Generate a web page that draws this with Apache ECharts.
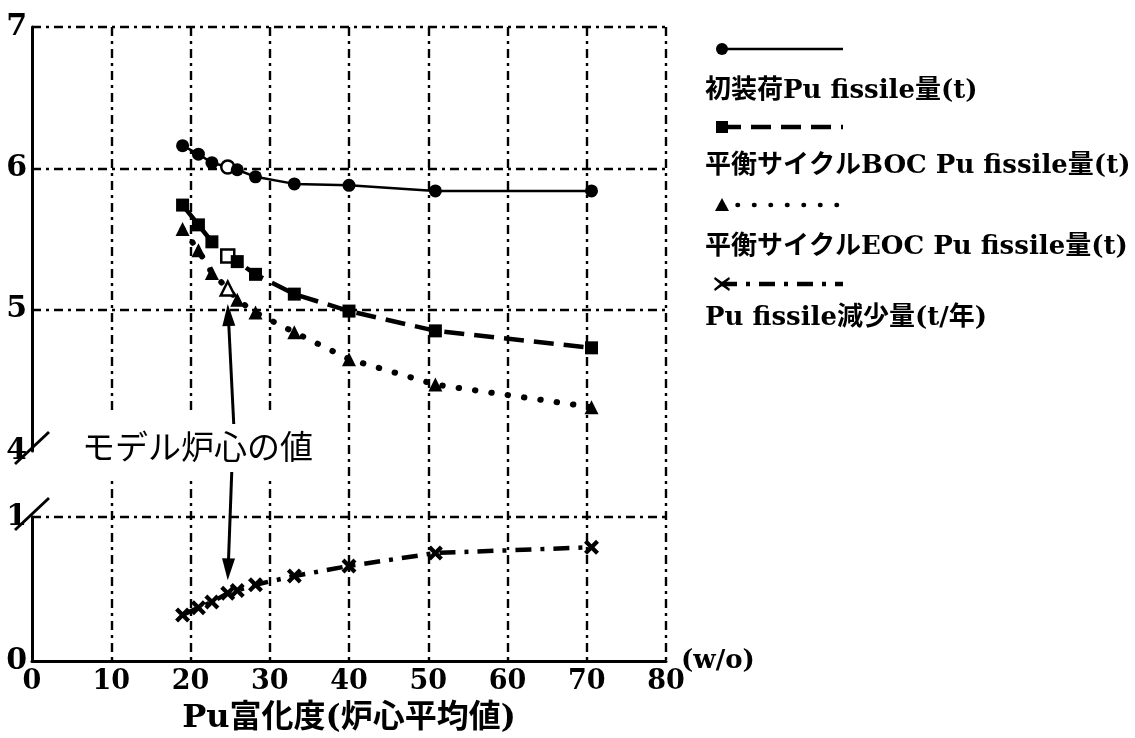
<!DOCTYPE html>
<html>
<head>
<meta charset="utf-8">
<script src="https://cdn.jsdelivr.net/npm/echarts@6/dist/echarts.min.js"></script>
<style>
  html, body { margin: 0; padding: 0; background: #ffffff; }
  #chart { width: 1135px; height: 738px; }
</style>
</head>
<body>
<div id="chart"></div>
<script>
// Pu enrichment (core average, w/o)
const enrichment = [19.0, 21.0, 22.7, 24.7, 25.9, 28.2, 33.1, 40.0, 50.9, 70.6];
// index of the model core case (drawn with hollow symbols)
const modelCoreIndex = 3;

// Pu fissile inventories (t)
const initialLoad = [6.16, 6.10, 6.04, 6.01, 5.99, 5.94, 5.89, 5.88, 5.84, 5.84];
const bocFissile  = [5.74, 5.60, 5.48, 5.38, 5.34, 5.25, 5.11, 4.99, 4.85, 4.73];
const eocFissile  = [5.57, 5.42, 5.26, 5.15, 5.07, 4.98, 4.84, 4.65, 4.47, 4.31];
// Pu fissile reduction (t/year)
const fissileReduction = [0.32, 0.37, 0.41, 0.47, 0.49, 0.53, 0.59, 0.66, 0.75, 0.79];

const seriesNames = [
  '初装荷Pu fissile量(t)',
  '平衡サイクルBOC Pu fissile量(t)',
  '平衡サイクルEOC Pu fissile量(t)',
  'Pu fissile減少量(t/年)'
];
const xAxisTitle = 'Pu富化度(炉心平均値)';
const xUnit = '(w/o)';
const annotationText = 'モデル炉心の値';

const xRange = [0, 80];
const upperRange = [4, 7];
const lowerRange = [0, 1];

const LATIN = '"DejaVu Serif", "Noto Sans CJK JP", serif';
const JP = '"Noto Sans CJK JP", sans-serif';
const gridDash = [9, 5, 3, 5];
const gridLine = { color: '#000', width: 2.4, type: gridDash, cap: 'butt' };
const axisLineStyle = { color: '#000', width: 3 };

const crossPath = 'path://M2,0 L5,3 L8,0 L10,2 L7,5 L10,8 L8,10 L5,7 L2,10 L0,8 L3,5 L0,2 Z';

function pairs(ys, hollowFill) {
  return enrichment.map((x, i) => {
    if (hollowFill && i === modelCoreIndex) {
      return { value: [x, ys[i]], itemStyle: { color: '#fff', borderColor: '#000', borderWidth: 2.5 } };
    }
    return [x, ys[i]];
  });
}

const chart = echarts.init(document.getElementById('chart'), null, { renderer: 'canvas' });

const option = {
  backgroundColor: '#ffffff',
  animation: false,
  grid: [
    { left: 32, width: 634, top: 27, height: 634 },   // full frame (vertical grid lines)
    { left: 32, width: 634, top: 27, height: 424 },   // upper part: 4 - 7
    { left: 32, width: 634, top: 517, height: 144 }   // lower part: 0 - 1
  ],
  xAxis: [
    {
      gridIndex: 0, type: 'value', min: xRange[0], max: xRange[1], interval: 10,
      axisLine: { show: false }, axisTick: { show: false }, axisLabel: { show: false },
      splitLine: { show: true, showMinLine: false, showMaxLine: true, lineStyle: gridLine },
      name: xUnit, nameLocation: 'end', nameGap: 15,
      nameTextStyle: { fontFamily: LATIN, fontWeight: 'bold', fontSize: 26, color: '#000', verticalAlign: 'middle', padding: [8, 0, 0, 0] }
    },
    {
      gridIndex: 1, type: 'value', min: xRange[0], max: xRange[1], interval: 10, show: false
    },
    {
      gridIndex: 2, type: 'value', min: xRange[0], max: xRange[1], interval: 10,
      axisLine: { show: true, onZero: false, lineStyle: axisLineStyle },
      axisTick: { show: false },
      axisLabel: { margin: 7, fontFamily: LATIN, fontWeight: 'bold', fontSize: 27, color: '#000' },
      splitLine: { show: false },
      name: xAxisTitle, nameLocation: 'middle', nameGap: 42,
      nameTextStyle: { fontFamily: LATIN, fontWeight: 'bold', fontSize: 32, color: '#000', verticalAlign: 'top' }
    }
  ],
  yAxis: [
    { gridIndex: 0, type: 'value', min: 0, max: 1, show: false },
    {
      gridIndex: 1, type: 'value', min: upperRange[0], max: upperRange[1], interval: 1,
      axisLine: { show: true, lineStyle: axisLineStyle },
      axisTick: { show: false },
      axisLabel: { margin: 5, fontFamily: LATIN, fontWeight: 'bold', fontSize: 30, color: '#000' },
      splitLine: { show: true, showMinLine: false, showMaxLine: true, lineStyle: gridLine }
    },
    {
      gridIndex: 2, type: 'value', min: lowerRange[0], max: lowerRange[1], interval: 1,
      axisLine: { show: true, lineStyle: axisLineStyle },
      axisTick: { show: false },
      axisLabel: { margin: 5, fontFamily: LATIN, fontWeight: 'bold', fontSize: 30, color: '#000' },
      splitLine: { show: true, showMinLine: false, showMaxLine: true, lineStyle: gridLine }
    }
  ],
  series: [
    {
      name: seriesNames[0], type: 'line', xAxisIndex: 1, yAxisIndex: 1,
      data: pairs(initialLoad, true),
      symbol: 'circle', symbolSize: 13,
      itemStyle: { color: '#000' },
      lineStyle: { color: '#000', width: 2.5, type: 'solid' },
      z: 5
    },
    {
      name: seriesNames[1], type: 'line', xAxisIndex: 1, yAxisIndex: 1,
      data: pairs(bocFissile, true),
      symbol: 'rect', symbolSize: 13,
      itemStyle: { color: '#000' },
      lineStyle: { color: '#000', width: 4.5, type: [20, 10], cap: 'butt' },
      z: 5
    },
    {
      name: seriesNames[2], type: 'line', xAxisIndex: 1, yAxisIndex: 1,
      data: pairs(eocFissile, true),
      symbol: 'triangle', symbolSize: 14,
      itemStyle: { color: '#000' },
      lineStyle: { color: '#000', width: 6, type: [0.5, 16], cap: 'round' },
      z: 5
    },
    {
      name: seriesNames[3], type: 'line', xAxisIndex: 2, yAxisIndex: 2,
      data: pairs(fissileReduction, false),
      symbol: crossPath, symbolSize: 15,
      itemStyle: { color: '#000' },
      lineStyle: { color: '#000', width: 4.5, type: [16, 9, 4, 9], cap: 'butt' },
      z: 5
    }
  ]
};

chart.setOption(option);

// ---- annotations and legend built from the axes' pixel positions ----
const upperPx = (x, y) => chart.convertToPixel({ xAxisIndex: 1, yAxisIndex: 1 }, [x, y]);
const lowerPx = (x, y) => chart.convertToPixel({ xAxisIndex: 2, yAxisIndex: 2 }, [x, y]);

const breakUpper = upperPx(0, upperRange[0]);
const breakLower = lowerPx(0, lowerRange[1]);

function slash(p) {
  return {
    type: 'line', z: 20,
    shape: { x1: p[0] - 17, y1: p[1] + 13, x2: p[0] + 17, y2: p[1] - 19 },
    style: { stroke: '#000', lineWidth: 3 }
  };
}

function arrow(tail, tip) {
  const dx = tip[0] - tail[0], dy = tip[1] - tail[1];
  const len = Math.sqrt(dx * dx + dy * dy);
  const ux = dx / len, uy = dy / len;
  const headLen = 22, headHalf = 6.5;
  const bx = tip[0] - ux * headLen, by = tip[1] - uy * headLen;
  return [
    {
      type: 'line', z: 30,
      shape: { x1: tail[0], y1: tail[1], x2: bx + ux * 2, y2: by + uy * 2 },
      style: { stroke: '#000', lineWidth: 3 }
    },
    {
      type: 'polygon', z: 30,
      shape: { points: [[tip[0], tip[1]], [bx - uy * headHalf, by + ux * headHalf], [bx + uy * headHalf, by - ux * headHalf]] },
      style: { fill: '#000' }
    }
  ];
}

const mx = enrichment[modelCoreIndex];
const upTip = upperPx(mx, 5.04);
const downTip = lowerPx(mx, 0.56);
const annotationY = breakUpper[1] - 5;

// legend: sample line with its symbol on one row, the label on the row below
const legendX0 = 717, legendX1 = 843;
const sampleRows = [49, 127, 205, 284];
const labelRows = [91, 166, 247, 318];

function legendSample(i) {
  const y = sampleRows[i];
  const s = option.series[i];
  const els = [];
  const ls = s.lineStyle;
  els.push({
    type: 'line', z: 10,
    shape: { x1: legendX0 + 4, y1: y, x2: legendX1, y2: y },
    style: {
      stroke: '#000', lineWidth: Math.min(ls.width, 4.5),
      lineDash: ls.type === 'solid' ? null : ls.type,
      lineCap: ls.cap || 'butt'
    }
  });
  const sx = legendX0 + 5;
  if (i === 0) {
    els.push({ type: 'circle', z: 11, shape: { cx: sx, cy: y, r: 6 }, style: { fill: '#000' } });
  } else if (i === 1) {
    els.push({ type: 'rect', z: 11, shape: { x: sx - 6, y: y - 6, width: 12, height: 12 }, style: { fill: '#000' } });
  } else if (i === 2) {
    els.push({ type: 'polygon', z: 11, shape: { points: [[sx, y - 7], [sx + 7, y + 6], [sx - 7, y + 6]] }, style: { fill: '#000' } });
  } else {
    els.push({ type: 'polygon', z: 11, shape: { points: [
      [sx - 7, y - 7], [sx, y - 2], [sx + 7, y - 7], [sx + 8, y - 5], [sx + 2, y], [sx + 8, y + 5],
      [sx + 7, y + 7], [sx, y + 2], [sx - 7, y + 7], [sx - 8, y + 5], [sx - 2, y], [sx - 8, y - 5]
    ] }, style: { fill: '#000' } });
  }
  els.push({
    type: 'text', z: 10, x: 705, y: labelRows[i],
    style: {
      text: seriesNames[i], fill: '#000', font: 'bold 26px ' + LATIN,
      verticalAlign: 'middle', align: 'left'
    }
  });
  return els;
}

const graphics = [
  slash(breakUpper),
  slash(breakLower),
  {
    type: 'text', z: 25, x: 78, y: annotationY,
    style: {
      text: annotationText, fill: '#000', font: 'normal 33px ' + JP,
      verticalAlign: 'middle', align: 'left',
      backgroundColor: '#fff', padding: [18, 4, 12, 4]
    }
  },
  ...arrow([upTip[0] + 6, annotationY - 22], upTip),
  ...arrow([upTip[0] + 4, annotationY + 26], downTip),
  ...legendSample(0), ...legendSample(1), ...legendSample(2), ...legendSample(3)
];

chart.setOption({ graphic: graphics });
</script>
</body>
</html>
